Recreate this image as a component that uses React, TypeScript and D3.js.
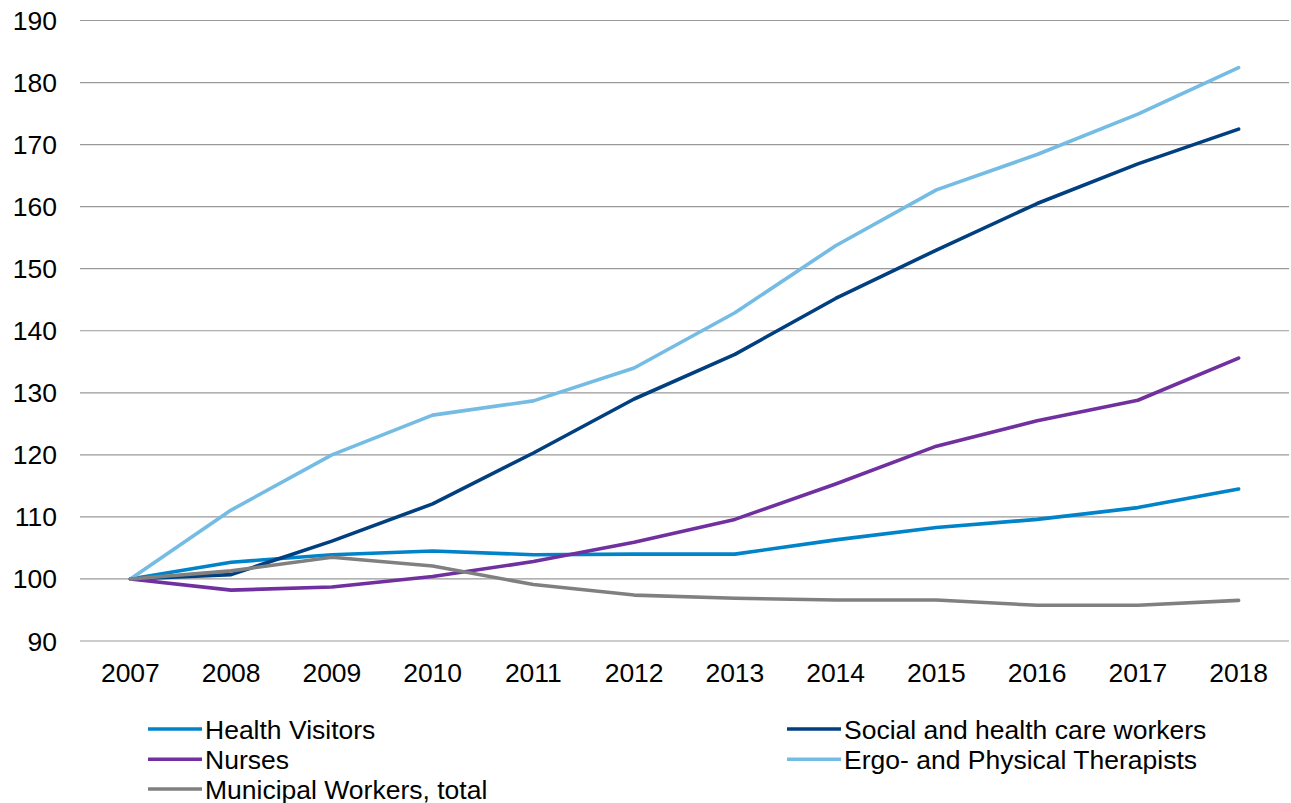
import React from "react";
import * as d3 from "d3";

const years = ["2007","2008","2009","2010","2011","2012","2013","2014","2015","2016","2017","2018"];
const yTicks = [90,100,110,120,130,140,150,160,170,180,190];

const healthVisitors = [100,102.7,103.9,104.5,103.9,104.0,104.0,106.3,108.3,109.6,111.5,114.5];
const socialHealth = [100,100.7,106.1,112.1,120.3,129.0,136.2,145.2,153.0,160.5,166.9,172.5];
const nurses = [100,98.2,98.7,100.4,102.8,105.9,109.6,115.3,121.4,125.5,128.8,135.6];
const ergoPhysical = [100,111.1,120.0,126.4,128.7,134.0,142.9,153.7,162.7,168.4,174.9,182.4];
const municipal = [100,101.3,103.5,102.1,99.1,97.4,96.9,96.6,96.6,95.75,95.75,96.55];

const seriesNames = ["Health Visitors","Social and health care workers","Nurses","Ergo- and Physical Therapists","Municipal Workers, total"];
const seriesColors = ["#0083C9","#003F80","#7030A0","#74BCE4","#808080"];
const seriesValues = [healthVisitors, socialHealth, nurses, ergoPhysical, municipal];

export default function App() {
  const W = 1291, H = 803;
  const left = 80, right = 1289, top = 20.5, bottom = 641;
  const x = d3.scalePoint().domain(years).range([left, right]).padding(0.5);
  const y = d3.scaleLinear().domain([90, 190]).range([bottom, top]);
  const line = d3.line<number>().x((_, i) => x(years[i])!).y(v => y(v));
  const font = "Arial, 'Liberation Sans', sans-serif";
  const fs = 26.5;

  const legendPos = [
    { lx: 148, ty: 729 },
    { lx: 787, ty: 729 },
    { lx: 148, ty: 759.3 },
    { lx: 787, ty: 759.3 },
    { lx: 148, ty: 789 },
  ];

  return (
    <svg width={W} height={H} style={{ position: "absolute", left: 0, top: 0, background: "#fff" }} fontFamily={font}>
      {yTicks.map(t => (
        <g key={t}>
          <line x1={left} x2={right} y1={y(t)} y2={y(t)} stroke="#999" strokeWidth={1.2} />
          <text x={57} y={y(t)} dy="0.36em" textAnchor="end" fontSize={fs} fill="#000">{t}</text>
        </g>
      ))}
      {years.map(yr => (
        <text key={yr} x={x(yr)} y={682} textAnchor="middle" fontSize={fs} fill="#000">{yr}</text>
      ))}
      {seriesValues.map((vals, i) => (
        <path key={i} d={line(vals)!} fill="none" stroke={seriesColors[i]} strokeWidth={3.6} strokeLinejoin="round" strokeLinecap="round" />
      ))}
      {seriesNames.map((n, i) => {
        const p = legendPos[i];
        return (
          <g key={n}>
            <line x1={p.lx} x2={p.lx + 54} y1={p.ty} y2={p.ty} stroke={seriesColors[i]} strokeWidth={3.6} />
            <text x={p.lx + 57} y={p.ty} dy="0.36em" fontSize={fs} fill="#000">{n}</text>
          </g>
        );
      })}
    </svg>
  );
}
